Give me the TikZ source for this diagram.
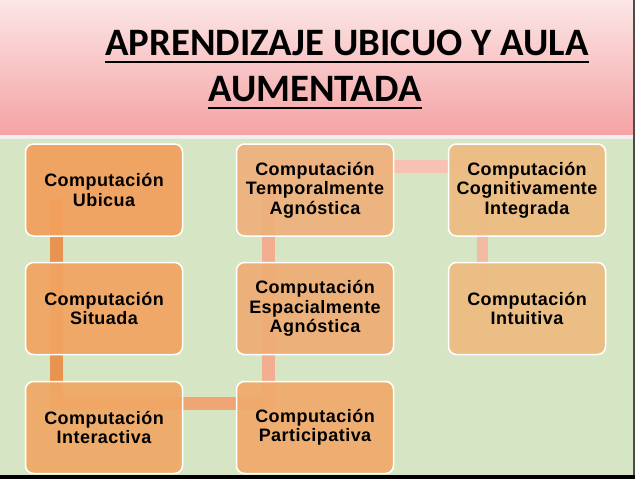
\documentclass[tikz,border=0pt]{standalone}
\usepackage{fontspec}
\setmainfont{Liberation Sans}
\newfontfamily\titlefont{Carlito}
\newfontfamily\boxfont[LetterSpace=2.5]{Liberation Sans}
\definecolor{pinkTop}{HTML}{FCE6E6}
\definecolor{pinkBot}{HTML}{F5A2A4}
\definecolor{bggreen}{HTML}{D6E6C4}
\definecolor{sepline}{HTML}{F2EEEC}
\definecolor{segA}{HTML}{E99350}
\definecolor{segB}{HTML}{F0A574}
\definecolor{segC}{HTML}{F3AD90}
\definecolor{segD}{HTML}{F7C2B2}
\definecolor{segE}{HTML}{F4BBA3}
\definecolor{boxA}{HTML}{F2A05C}
\definecolor{boxB}{HTML}{F1A462}
\definecolor{boxC}{HTML}{F0A866}
\definecolor{boxD}{HTML}{EDB17C}
\definecolor{boxE}{HTML}{EEAE76}
\definecolor{boxF}{HTML}{F0AA6C}
\definecolor{boxG}{HTML}{EDBB82}
\tikzset{
  cbox/.style={rounded corners=8pt, draw=white, line width=1.5pt,
    minimum width=157pt, minimum height=92pt, align=center, inner sep=0pt,
    font=\boxfont\bfseries\fontsize{18}{19.5}\selectfont, fill opacity=0.93, text opacity=1},
  link/.style={line width=13pt, line cap=rect},
  ttl/.style={anchor=base west, inner sep=0pt, font=\titlefont\bfseries\fontsize{38.8}{40}\selectfont},
  uline/.style={line width=2.6pt}
}
\begin{document}
\begin{tikzpicture}[x=1pt,y=-1pt]
\useasboundingbox (0,0) rectangle (635,479);
% background
\shade[top color=pinkTop, bottom color=pinkBot] (0,0) rectangle (633,135);
\fill[sepline] (0,135) rectangle (633,139);
\fill[bggreen] (0,139) rectangle (633,475);
\fill[black] (0,475) rectangle (635,479);
\fill[black!70] (633,0) rectangle (635,475);
% title
\node[ttl] (t1) at (105,55) {APRENDIZAJE UBICUO Y AULA};
\node[ttl] (t2) at (208,101) {AUMENTADA};
\draw[uline] ([yshift=-7pt]t1.base west) -- ([yshift=-7pt]t1.base east);
\draw[uline] ([yshift=-7pt]t2.base west) -- ([yshift=-7pt]t2.base east);
% connector path coordinates
\coordinate (k0) at (56,205);
\coordinate (k1) at (56,403);
\coordinate (k2) at (268,403);
\coordinate (k3) at (268,166);
\coordinate (k4) at (482,166);
\coordinate (k5) at (482,290);
\draw[link, segA] (k0) -- (k1);
\draw[link, segB] (k1) -- (k2);
\draw[link, segC] (k2) -- (k3);
\draw[link, segD] (k3) -- (k4);
\draw[link, segE, line width=11pt] (k4) -- (k5);
% boxes
\node[cbox, fill=boxA] (ubicua) at (104,190) {Computación\\Ubicua};
\node[cbox, fill=boxB] (situada) at (104,308.5) {Computación\\Situada};
\node[cbox, fill=boxC] (interactiva) at (104,427.5) {Computación\\Interactiva};
\node[cbox, fill=boxD] (temporal) at (315,190) {Computación\\Temporalmente\\Agnóstica};
\node[cbox, fill=boxE] (espacial) at (315,308.5) {Computación\\Espacialmente\\Agnóstica};
\node[cbox, fill=boxF] (particip) at (315,427.5) {Computación\\Participativa};
\node[cbox, fill=boxG] (cognitiva) at (527,190) {Computación\\Cognitivamente\\Integrada};
\node[cbox, fill=boxG] (intuitiva) at (527,308.5) {Computación\\Intuitiva};
\end{tikzpicture}
\end{document}
